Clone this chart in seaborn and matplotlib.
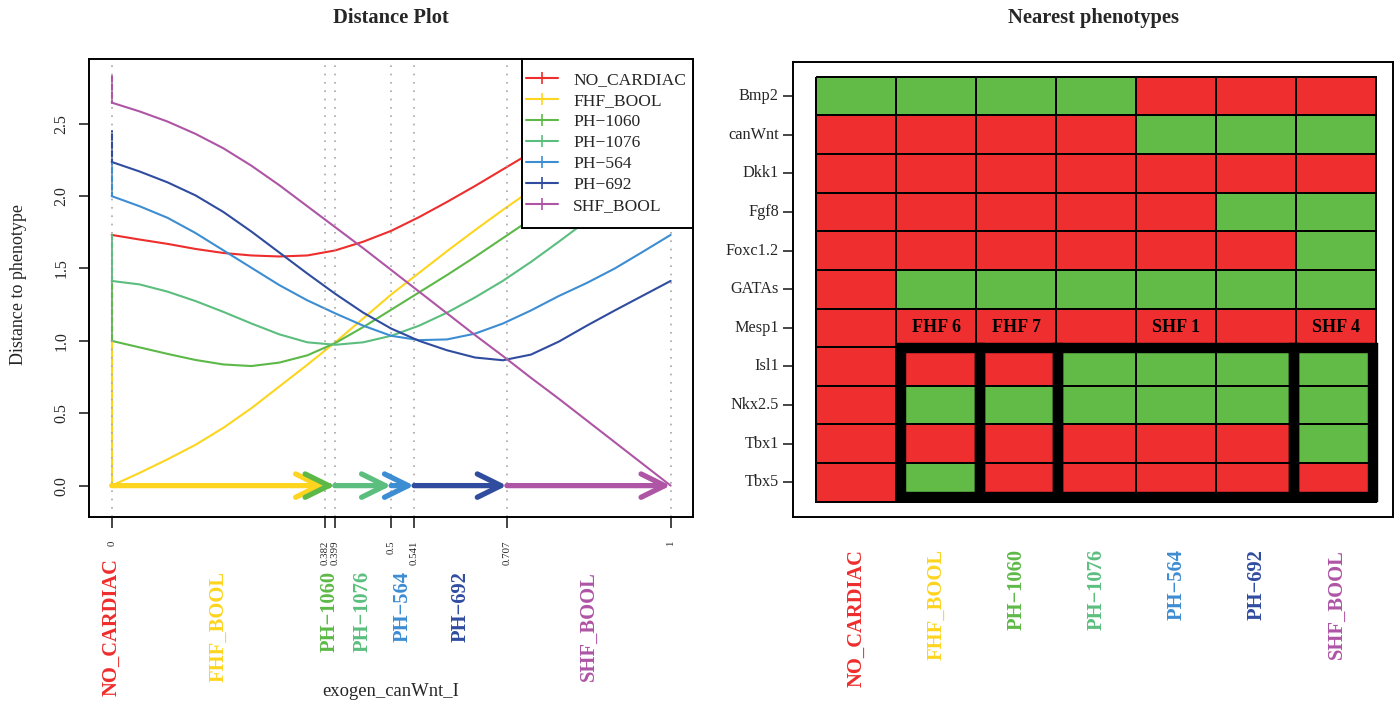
import numpy as np
import pandas as pd
import matplotlib
matplotlib.use("Agg")
import matplotlib.pyplot as plt
from matplotlib.colors import ListedColormap
from matplotlib.lines import Line2D
from matplotlib.patches import Rectangle
import seaborn as sns

# ---- data ----
phenotypes = ["NO_CARDIAC", "FHF_BOOL", "PH-1060", "PH-1076", "PH-564", "PH-692", "SHF_BOOL"]
pheno_colors = ["#EE2D2D", "#FDD51F", "#5DB947", "#5BBE7E", "#3D8DD3", "#2F4C9F", "#AE55A5"]

x_grid = [0.00, 0.05, 0.10, 0.15, 0.20, 0.25, 0.30, 0.35, 0.40, 0.45, 0.50,
          0.55, 0.60, 0.65, 0.70, 0.75, 0.80, 0.85, 0.90, 0.95, 1.00]
dist_no_cardiac = [1.732, 1.70, 1.67, 1.635, 1.607, 1.59, 1.583, 1.59, 1.625, 1.685, 1.76,
                   1.855, 1.96, 2.07, 2.185, 2.30, 2.42, 2.54, 2.66, 2.78, 2.90]
dist_fhf_bool = [0.0, 0.088, 0.182, 0.282, 0.40, 0.535, 0.685, 0.835, 0.99, 1.155, 1.32,
                 1.47, 1.62, 1.765, 1.905, 2.04, 2.17, 2.295, 2.415, 2.535, 2.65]
dist_ph1060 = [1.0, 0.955, 0.91, 0.868, 0.837, 0.826, 0.85, 0.90, 0.985, 1.095, 1.215,
               1.335, 1.455, 1.58, 1.71, 1.84, 1.97, 2.10, 2.23, 2.35, 2.45]
dist_ph1076 = [1.414, 1.39, 1.34, 1.275, 1.20, 1.12, 1.045, 0.99, 0.973, 0.99, 1.035,
               1.105, 1.195, 1.30, 1.415, 1.545, 1.685, 1.83, 1.97, 2.11, 2.24]
dist_ph564 = [2.0, 1.93, 1.85, 1.745, 1.625, 1.505, 1.385, 1.28, 1.19, 1.105, 1.035,
              1.005, 1.01, 1.05, 1.12, 1.21, 1.31, 1.40, 1.50, 1.615, 1.732]
dist_ph692 = [2.236, 2.17, 2.095, 2.005, 1.89, 1.755, 1.61, 1.465, 1.325, 1.195, 1.085,
              1.0, 0.935, 0.885, 0.866, 0.905, 0.995, 1.105, 1.21, 1.312, 1.414]
dist_shf_bool = [2.646, 2.585, 2.515, 2.43, 2.33, 2.21, 2.075, 1.93, 1.785, 1.64, 1.49,
                 1.34, 1.19, 1.04, 0.895, 0.745, 0.60, 0.45, 0.30, 0.15, 0.0]
# distance exactly at x = 0 (vertical jump at the left edge)
dist_at_zero = [1.732, 1.0, 1.414, 1.732, 2.236, 2.449, 2.828]

# nearest phenotype along exogen_canWnt_I
switch_points = [0, 0.382, 0.399, 0.5, 0.541, 0.707, 1]
switch_labels = ["0", "0.382", "0.399", "0.5", "0.541", "0.707", "1"]
nearest_phenotype = ["FHF_BOOL", "PH-1060", "PH-1076", "PH-564", "PH-692", "SHF_BOOL"]

genes = ["Bmp2", "canWnt", "Dkk1", "Fgf8", "Foxc1.2", "GATAs", "Mesp1",
         "Isl1", "Nkx2.5", "Tbx1", "Tbx5"]
# 1 = on (green), 0 = off (red); columns follow phenotypes
state_bmp2 = [1, 1, 1, 1, 0, 0, 0]
state_canwnt = [0, 0, 0, 0, 1, 1, 1]
state_dkk1 = [0, 0, 0, 0, 0, 0, 0]
state_fgf8 = [0, 0, 0, 0, 0, 1, 1]
state_foxc12 = [0, 0, 0, 0, 0, 0, 1]
state_gatas = [0, 1, 1, 1, 1, 1, 1]
state_mesp1 = [0, 0, 0, 0, 0, 0, 0]
state_isl1 = [0, 0, 0, 1, 1, 1, 1]
state_nkx25 = [0, 1, 1, 1, 1, 1, 1]
state_tbx1 = [0, 0, 0, 0, 0, 0, 1]
state_tbx5 = [0, 1, 0, 0, 0, 0, 0]
mesp1_notes = ["", "FHF 6", "FHF 7", "", "SHF 1", "", "SHF 4"]
box_groups = [(1, 1), (2, 2), (3, 5), (6, 6)]   # column ranges boxed over Isl1..Tbx5

# ---- build tables ----
curves = [dist_no_cardiac, dist_fhf_bool, dist_ph1060, dist_ph1076,
          dist_ph564, dist_ph692, dist_shf_bool]
df = pd.DataFrame({
    "exogen_canWnt_I": np.tile(x_grid, len(phenotypes)),
    "distance": np.concatenate(curves),
    "phenotype": np.repeat(phenotypes, len(x_grid)),
})
palette = dict(zip(phenotypes, pheno_colors))
states = pd.DataFrame([state_bmp2, state_canwnt, state_dkk1, state_fgf8, state_foxc12,
                       state_gatas, state_mesp1, state_isl1, state_nkx25, state_tbx1,
                       state_tbx5], index=genes, columns=phenotypes)
notes = np.full(states.shape, "", dtype=object)
notes[genes.index("Mesp1")] = mesp1_notes


def disp(name):
    return name.replace("-", "\u2212")


sns.set_theme(style="white")
plt.rcParams["font.family"] = ["Liberation Serif", "DejaVu Serif"]
plt.rcParams["axes.edgecolor"] = "black"

fig = plt.figure(figsize=(14, 7.07), dpi=100)
ax1 = fig.add_axes([0.0638, 0.2687, 0.4312, 0.6478])
ax2 = fig.add_axes([0.5662, 0.2687, 0.4288, 0.644])

# ---- left: distance plot ----
sns.lineplot(data=df, x="exogen_canWnt_I", y="distance", hue="phenotype",
             hue_order=phenotypes, palette=palette, estimator=None, sort=False,
             legend=False, linewidth=1.5, ax=ax1, zorder=2)
for name, y0, c in zip(phenotypes, dist_at_zero, pheno_colors):
    y1 = df.loc[(df.phenotype == name) & (df.exogen_canWnt_I == 0), "distance"].iloc[0]
    ax1.plot([0, 0], [y0, y1], color=c, lw=1.5, zorder=2)

for xv in switch_points:
    ax1.axvline(xv, color="#A8A8A8", lw=1.2, ls=(0, (1, 4)), zorder=2.5)

for x0, x1, name in zip(switch_points[:-1], switch_points[1:], nearest_phenotype):
    ax1.annotate("", xy=(x1, 0), xytext=(x0, 0), zorder=3,
                 arrowprops=dict(arrowstyle="->,head_length=0.85,head_width=0.42",
                                 color=palette[name], lw=3.8, mutation_scale=20,
                                 shrinkA=0, shrinkB=0))

ax1.set_xlim(-0.04, 1.04)
ax1.set_ylim(-0.217, 2.947)
ax1.set_yticks([0, 0.5, 1.0, 1.5, 2.0, 2.5])
ax1.set_yticklabels(["0.0", "0.5", "1.0", "1.5", "2.0", "2.5"], rotation=90, va="center",
                    fontsize=11.5)
ax1.set_xticks(switch_points)
ax1.set_xticklabels(switch_labels, rotation=90, fontsize=7.8)
ax1.tick_params(axis="y", direction="out", length=7.5, width=1.2, pad=7, left=True)
ax1.tick_params(axis="x", direction="out", length=8, width=1.2, pad=9, bottom=True)
ax1.set_xlabel("")
ax1.set_ylabel("")
for s in ax1.spines.values():
    s.set_linewidth(1.4)
    s.set_color("black")

label_x = [0] + [(a + b) / 2 for a, b in zip(switch_points[:-1], switch_points[1:])]
label_top = [-0.09] + [-0.118] * len(nearest_phenotype)
for xv, yv, name in zip(label_x, label_top, ["NO_CARDIAC"] + nearest_phenotype):
    ax1.text(xv, yv, disp(name), transform=ax1.get_xaxis_transform(),
             rotation=90, ha="center", va="top", fontsize=14.8, fontweight="bold",
             color=palette[name])
ax1.text(0.5, -0.382, "exogen_canWnt_I", transform=ax1.transAxes,
         ha="center", va="center", fontsize=13.4)
ax1.text(-0.117, 0.507, "Distance to phenotype", transform=ax1.transAxes,
         rotation=90, ha="center", va="center", fontsize=13)

# legend: white box drawn separately so the padding can be uneven like the original
ax1.add_patch(Rectangle((0.7168, 0.631), 0.2832, 0.369, transform=ax1.transAxes,
                        facecolor="white", edgecolor="black", lw=1.4, zorder=4.5,
                        clip_on=False))
handles = [Line2D([0], [0], color=c, lw=1.5, marker="+", markersize=9, markeredgewidth=1.2)
           for c in pheno_colors]
leg = ax1.legend(handles, [disp(p) for p in phenotypes], loc="upper left",
                 bbox_to_anchor=(0.7234, 0.972), borderaxespad=0, borderpad=0,
                 frameon=False, fontsize=12.6, handlelength=1.85, handletextpad=0.85,
                 labelspacing=0.27)
leg.set_zorder(5)

# ---- right: nearest phenotypes ----
cmap = ListedColormap(["#EE2E2F", "#62BB46"])
sns.heatmap(states, cmap=cmap, vmin=0, vmax=1, cbar=False, linewidths=1.2,
            linecolor="black", annot=notes, fmt="",
            annot_kws={"color": "black", "fontweight": "bold", "fontsize": 13},
            ax=ax2)
ax2.set_xlim(-0.296, 7.2075)
ax2.set_ylim(11.396, -0.388)
for s in ax2.spines.values():
    s.set_visible(True)
    s.set_linewidth(1.4)
    s.set_color("black")


def box_x(b):
    return 0.0743 + 0.9827 * b


row0 = genes.index("Isl1")
for c0, c1 in box_groups:
    xl, xr = box_x(c0), box_x(c1 + 1)
    yt, yb = row0 + 0.01, len(genes) - 0.13
    ax2.add_patch(Rectangle((xl, yt), xr - xl, yb - yt, fill=False,
                            edgecolor="black", lw=7.5, joinstyle="miter", zorder=4))

ax2.set_yticks(np.arange(len(genes)) + 0.5)
ax2.set_yticklabels(genes, rotation=0, fontsize=11.7)
ax2.tick_params(axis="y", direction="out", length=7, width=1.2, pad=3, left=True)
ax2.set_xticks(np.arange(len(phenotypes)) + 0.5)
ax2.set_xticklabels([disp(p) for p in phenotypes], rotation=90, fontsize=14.8,
                    fontweight="bold")
ax2.tick_params(axis="x", length=0, pad=23)
for lbl, c in zip(ax2.get_xticklabels(), pheno_colors):
    lbl.set_color(c)
ax2.set_xlabel("")
ax2.set_ylabel("")

fig.text(391 / 1400, 1 - 18 / 707, "Distance Plot", ha="center", va="center",
         fontsize=14.8, fontweight="bold")
fig.text(1093 / 1400, 1 - 18 / 707, "Nearest phenotypes", ha="center", va="center",
         fontsize=14.8, fontweight="bold")

fig.savefig("out.png", dpi=100)
